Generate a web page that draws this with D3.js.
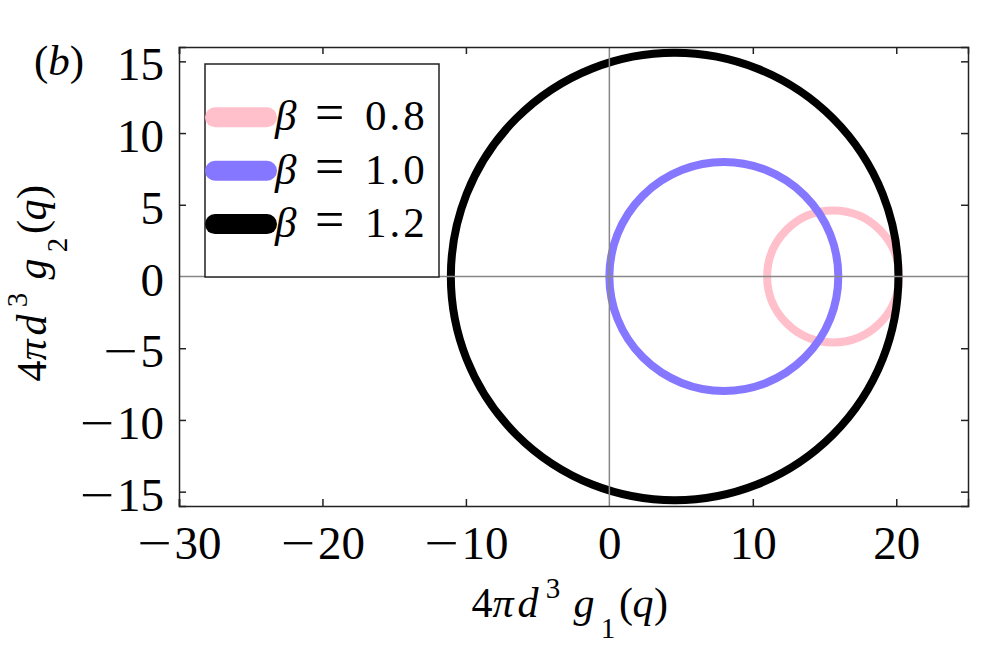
<!DOCTYPE html>
<html>
<head>
<meta charset="utf-8">
<script src="https://cdn.jsdelivr.net/npm/d3@7"></script>
<style>
	body { margin: 0; background: #fff; }
	svg text { font-family: "Liberation Serif", "DejaVu Serif", serif; fill: #000; }
	.axis path, .axis line { stroke: #222; stroke-width: 1.5; }
</style>
</head>
<body>
<div id="chart"></div>
<script>

var betas = [0.8, 1.0, 1.2],
	centers = [15.6, 7.98, 4.55],
	radii = [4.6, 7.98, 15.6],
	colors = ['#ffc0cb', '#8577ff', '#000000']

var x_ticks = [-30, -20, -10, 0, 10, 20],
	y_ticks = [-15, -10, -5, 0, 5, 10, 15]

var width = 987,
	height = 658,
	margin = {left: 179, right: 19, top: 47, bottom: 152}

var svg = d3.select('#chart')
	.append('svg')
	.attr('width', width)
	.attr('height', height)

var x = d3.scaleLinear()
	.domain([-30, 25])
	.range([margin.left, width - margin.right])

var y = d3.scaleLinear()
	.domain([-16, 16])
	.range([height - margin.bottom, margin.top])

// circles, pink first so the others sit on top
svg.append('g')
	.selectAll('ellipse')
	.data(betas)
	.join('ellipse')
		.attr('cx', (d, i) => x(centers[i]))
		.attr('cy', y(0))
		.attr('rx', (d, i) => x(radii[i]) - x(0))
		.attr('ry', (d, i) => y(0) - y(radii[i]))
		.attr('fill', 'none')
		.attr('stroke', (d, i) => colors[i])
		.attr('stroke-width', 8)

// zero lines
svg.append('line')
	.attr('x1', x(0)).attr('x2', x(0))
	.attr('y1', y(16)).attr('y2', y(-16))
	.attr('stroke', '#888')
	.attr('stroke-width', 1.5)

svg.append('line')
	.attr('x1', x(-30)).attr('x2', x(25))
	.attr('y1', y(0)).attr('y2', y(0))
	.attr('stroke', '#888')
	.attr('stroke-width', 1.5)

// tick labels: digits as text, a widened minus sign in front of them
var minus_w = 34,
	minus_gap = 3,
	minus_scale = 1.3

var label = (sel, anchor) => {
	sel.each(function (d) {
		var t = d3.select(this).text(Math.abs(d)),
			dw = this.getComputedTextLength(),
			w = d < 0 ? minus_w + minus_gap + dw : dw,
			left = anchor == 'middle' ? -w / 2 : +t.attr('x') - w,
			base = +t.attr('y') + +t.attr('dy')

		t.attr('text-anchor', 'end').attr('x', left + w)

		if (d < 0) {
			d3.select(this.parentNode).append('text')
				.attr('transform', 'translate(' + left + ',' + base + ') scale(' + minus_scale + ',1)')
				.attr('text-anchor', 'start')
				.attr('font-size', 47)
				.text('\u2212')
		}
	})
}

// axes, ticks pointing in
svg.append('g')
	.attr('class', 'axis')
	.attr('transform', 'translate(0,' + y(-16) + ')')
	.call(d3.axisBottom(x).tickValues(x_ticks).tickSize(-7))
	.selectAll('.tick text')
		.attr('font-size', 47)
		.attr('y', 52.5)
		.attr('dy', 0)
		.call(label, 'middle')

svg.append('g')
	.attr('class', 'axis')
	.attr('transform', 'translate(0,' + y(16) + ')')
	.call(d3.axisTop(x).tickValues(x_ticks).tickSize(-7).tickFormat(''))

svg.append('g')
	.attr('class', 'axis')
	.attr('transform', 'translate(' + x(-30) + ',0)')
	.call(d3.axisLeft(y).tickValues(y_ticks).tickSize(-7))
	.selectAll('.tick text')
		.attr('font-size', 47)
		.attr('x', -15)
		.attr('y', 0)
		.attr('dy', 18.5)
		.call(label, 'end')

svg.append('g')
	.attr('class', 'axis')
	.attr('transform', 'translate(' + x(25) + ',0)')
	.call(d3.axisRight(y).tickValues(y_ticks).tickSize(-7).tickFormat(''))

// hide the tick under the zero lines
svg.selectAll('.axis .tick line').filter(d => d === 0).remove()

// legend
var legend = svg.append('g')
	.attr('transform', 'translate(205,64)')

legend.append('rect')
	.attr('width', 234)
	.attr('height', 213)
	.attr('fill', '#fff')
	.attr('stroke', '#222')
	.attr('stroke-width', 1.5)

var items = legend.selectAll('g.item')
	.data(betas)
	.join('g')
		.attr('class', 'item')
		.attr('transform', (d, i) => 'translate(0,' + (53.3 + i * 53.4) + ')')

items.append('line')
	.attr('x1', 10).attr('x2', 62)
	.attr('stroke', (d, i) => colors[i])
	.attr('stroke-width', 20)
	.attr('stroke-linecap', 'round')

var item_text = items.append('text')
	.attr('y', 13)
	.attr('font-size', 43)

item_text.append('tspan')
	.attr('x', 70)
	.attr('font-style', 'italic')
	.text('β')

item_text.append('tspan')
	.attr('x', 110)
	.attr('font-size', 52)
	.text('=')

item_text.append('tspan')
	.attr('x', 160)
	.attr('letter-spacing', 3)
	.text(d => d3.format('.1f')(d))

// panel label
svg.append('text')
	.attr('x', 34)
	.attr('y', 75)
	.attr('font-size', 43)
	.html('(<tspan font-style="italic">b</tspan>)')

// axis titles, each glyph centred where the reference puts it
var title_glyphs = [
	{s: '4', c: 10, dy: 0, size: 42, it: false},
	{s: 'π', c: 31, dy: 0, size: 42, it: true},
	{s: 'd', c: 56, dy: 0, size: 42, it: true},
	{s: '3', c: 81, dy: -19, size: 29, it: false},
	{s: 'g', c: 112, dy: 0, size: 42, it: true},
	{s: 'sub', c: 136, dy: 21, size: 29, it: false},
	{s: '(', c: 154, dy: 0, size: 42, it: false},
	{s: 'q', c: 171, dy: 0, size: 42, it: true},
	{s: ')', c: 189, dy: 0, size: 42, it: false}
]

var title = (g, sub) => {
	g.selectAll('text')
		.data(title_glyphs)
		.join('text')
			.attr('x', d => d.c)
			.attr('y', d => d.dy)
			.attr('text-anchor', 'middle')
			.attr('font-size', d => d.size)
			.attr('font-style', d => d.it ? 'italic' : null)
			.text(d => d.s == 'sub' ? sub : d.s)
}

svg.append('g')
	.attr('transform', 'translate(472,617)')
	.call(title, '1')

svg.append('g')
	.attr('transform', 'translate(46,381) rotate(-90)')
	.call(title, '2')

</script>
</body>
</html>
